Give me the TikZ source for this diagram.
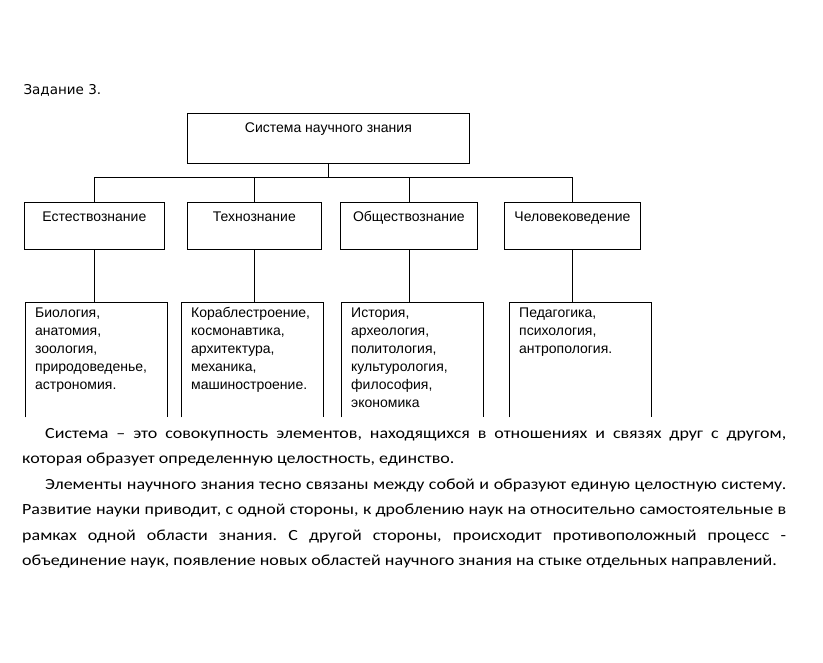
\documentclass[tikz,border=0pt]{standalone}
\usepackage{fontspec}
\setmainfont{Liberation Sans}
\newfontfamily\bodyfont[FakeStretch=1.16]{Carlito}
\newfontfamily\taskfont{DejaVu Sans}
\usetikzlibrary{positioning}
\frenchspacing

\begin{document}
\begin{tikzpicture}[
    x=1pt, y=-1pt,
    font=\fontsize{14}{18}\selectfont,
    sysbox/.style={
        draw,
        line width=0.8pt,
        anchor=north west,
        minimum width=282pt,
        inner xsep=0pt,
        inner ysep=0pt,
        text height=19pt,
        text depth=31pt
    },
    fieldbox/.style={
        draw,
        line width=0.8pt,
        anchor=north west,
        inner xsep=0pt,
        inner ysep=0pt,
        text height=19pt,
        text depth=28pt
    },
    leafbox/.style={
        anchor=north west,
        text width=122pt,
        inner xsep=10pt,
        inner ysep=0pt,
        align=left,
        text height=15pt,
        text depth=100pt
    },
    link/.style={line width=0.8pt}
]
    \useasboundingbox (0,0) rectangle (823,663);

    \node[anchor=base west, font=\taskfont\fontsize{13.5}{16}\selectfont] (task) at (20,95) {Задание 3.};

    \node[sysbox] (sys) at (187,113) {Система научного знания};

    \node[fieldbox, minimum width=140pt] (est) at (24,202) {Естествознание};
    \node[fieldbox, minimum width=134pt] (tech) at (187,202) {Технознание};
    \node[fieldbox, minimum width=137pt] (soc) at (340,202) {Обществознание};
    \node[fieldbox, minimum width=136pt] (hum) at (504,202) {Человековедение};

    \node[leafbox] (bio) at (25,302) {Биология,\\анатомия,\\зоология,\\природоведенье,\\астрономия.};
    \node[leafbox] (eng) at (181,302) {Кораблестроение,\\космонавтика,\\архитектура,\\механика,\\машиностроение.};
    \node[leafbox] (hist) at (341,302) {История,\\археология,\\политология,\\культурология,\\философия,\\экономика};
    \node[leafbox] (ped) at (509,302) {Педагогика,\\психология,\\антропология.};

    % open frames of the lower boxes
    \draw[link] (bio.south west) -- (bio.north west) -- (bio.north east) -- (bio.south east);
    \draw[link] (eng.south west) -- (eng.north west) -- (eng.north east) -- (eng.south east);
    \draw[link] (hist.south west) -- (hist.north west) -- (hist.north east) -- (hist.south east);
    \draw[link] (ped.south west) -- (ped.north west) -- (ped.north east) -- (ped.south east);

    \draw[link] (sys.south) -- ++(0,14) -| (est.north);
    \draw[link] (sys.south) -- ++(0,14) -| (tech.north);
    \draw[link] (sys.south) -- ++(0,14) -| (soc.north);
    \draw[link] (sys.south) -- ++(0,14) -| (hum.north);

    \draw[link] (est.south) -- (est.south |- bio.north);
    \draw[link] (tech.south) -- (tech.south |- eng.north);
    \draw[link] (soc.south) -- (soc.south |- hist.north);
    \draw[link] (hum.south) -- (hum.south |- ped.north);

    \node[anchor=north west, inner sep=0pt, text width=764pt, align=justify, text height=12pt,
        font=\bodyfont\fontsize{15.5}{25.5}\selectfont] (note) at (22,426)
        {\hspace*{23pt}Система – это совокупность элементов, находящихся в отношениях и связях друг с другом,\linebreak
        которая образует определенную целостность, единство.\par
        \hspace*{23pt}Элементы научного знания тесно связаны между собой и образуют единую целостную систему.\linebreak
        Развитие науки приводит, с одной стороны, к дроблению наук на относительно самостоятельные в\linebreak
        рамках одной области знания. С другой стороны, происходит противоположный процесс -\linebreak
        объединение наук, появление новых областей научного знания на стыке отдельных направлений.};
\end{tikzpicture}
\end{document}
